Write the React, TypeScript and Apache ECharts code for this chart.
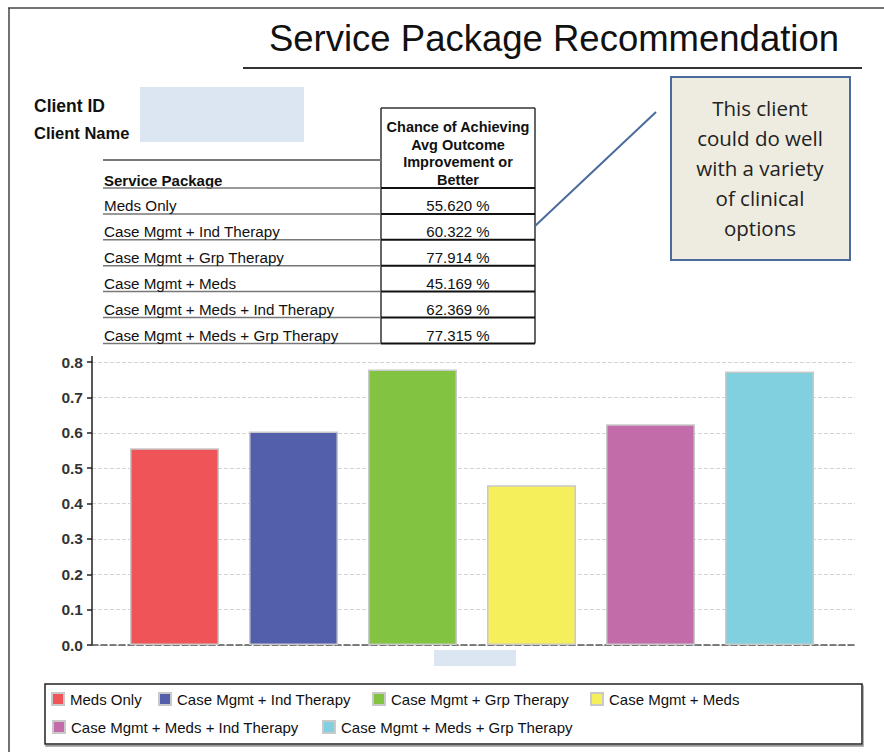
import React, { useEffect, useRef } from "react";
import * as echarts from "echarts";

const categories = [
  "Meds Only",
  "Case Mgmt + Ind Therapy",
  "Case Mgmt + Grp Therapy",
  "Case Mgmt + Meds",
  "Case Mgmt + Meds + Ind Therapy",
  "Case Mgmt + Meds + Grp Therapy",
];
const values = [0.5562, 0.60322, 0.77914, 0.45169, 0.62369, 0.77315];
const colors = ["#ef5459", "#535fab", "#82c341", "#f4ef5a", "#c36caa", "#80d0df"];
const yMin = 0;
const yMax = 0.8;
const yStep = 0.1;
const titleText = "Service Package Recommendation";
const headerText = ["Chance of Achieving", "Avg Outcome", "Improvement or", "Better"];
const calloutText = ["This client", "could do well", "with a variety", "of clinical", "options"];

const FF = "'Liberation Sans', Arial, Helvetica, sans-serif";

export default function App() {
  const ref = useRef<HTMLDivElement>(null);
  useEffect(() => {
    if (!ref.current) return;
    const chart = echarts.init(ref.current, undefined, { renderer: "svg" });

    const graphics: any[] = [];
    // outer frame
    graphics.push({ type: "line", shape: { x1: 8, y1: 8, x2: 884, y2: 8 }, style: { stroke: "#444", lineWidth: 1.5 } });
    graphics.push({ type: "line", shape: { x1: 9, y1: 8, x2: 9, y2: 752 }, style: { stroke: "#444", lineWidth: 1.5 } });
    // title
    graphics.push({
      type: "text",
      style: { text: titleText, x: 554, y: 38, align: "center", verticalAlign: "middle", fontSize: 36.5, fontFamily: FF, fill: "#111" },
    });
    graphics.push({ type: "line", shape: { x1: 243, y1: 68, x2: 862, y2: 68 }, style: { stroke: "#333", lineWidth: 2 } });
    // client info
    graphics.push({ type: "text", style: { text: "Client ID", x: 34, y: 106, verticalAlign: "middle", fontSize: 17.5, fontWeight: "bold", fontFamily: FF, fill: "#111" } });
    graphics.push({ type: "text", style: { text: "Client Name", x: 34, y: 133, verticalAlign: "middle", fontSize: 16.5, fontWeight: "bold", fontFamily: FF, fill: "#111" } });
    graphics.push({ type: "rect", shape: { x: 140, y: 87, width: 164, height: 55 }, style: { fill: "#dce6f2" } });

    // table
    const colL = 103, colM = 381, colR = 535;
    const headerBottom = 188;
    const rowH = 25.9;
    const lastLine = headerBottom + rowH * categories.length;
    graphics.push({ type: "line", shape: { x1: colM, y1: 108, x2: colR, y2: 108 }, style: { stroke: "#333", lineWidth: 1.5 } });
    graphics.push({ type: "line", shape: { x1: colM, y1: 108, x2: colM, y2: lastLine }, style: { stroke: "#333", lineWidth: 1.5 } });
    graphics.push({ type: "line", shape: { x1: colR, y1: 108, x2: colR, y2: lastLine }, style: { stroke: "#333", lineWidth: 1.5 } });
    graphics.push({ type: "line", shape: { x1: colL, y1: 160, x2: colM, y2: 160 }, style: { stroke: "#777", lineWidth: 2 } });
    graphics.push({
      type: "text",
      style: { text: headerText.join("\n"), x: (colM + colR) / 2, y: 153.5, align: "center", verticalAlign: "middle", lineHeight: 17.7, fontSize: 14.5, fontWeight: "bold", fontFamily: FF, fill: "#111" },
    });
    graphics.push({ type: "text", style: { text: "Service Package", x: 104, y: 180, verticalAlign: "middle", fontSize: 15, fontWeight: "bold", fontFamily: FF, fill: "#111" } });
    for (let i = 0; i <= categories.length; i++) {
      const y = headerBottom + rowH * i;
      graphics.push({ type: "line", shape: { x1: colL, y1: y, x2: colM, y2: y }, style: { stroke: "#777", lineWidth: 1.5 } });
      graphics.push({ type: "line", shape: { x1: colM, y1: y, x2: colR, y2: y }, style: { stroke: "#111", lineWidth: 2 } });
    }
    categories.forEach((name, i) => {
      const cy = headerBottom + rowH * (i + 1) - 8;
      graphics.push({ type: "text", style: { text: name, x: 104, y: cy, verticalAlign: "middle", fontSize: 15.2, fontFamily: FF, fill: "#111" } });
      graphics.push({
        type: "text",
        style: { text: (values[i] * 100).toFixed(3) + " %", x: (colM + colR) / 2, y: cy, align: "center", verticalAlign: "middle", fontSize: 15, fontFamily: FF, fill: "#111" },
      });
    });

    // callout
    graphics.push({ type: "line", shape: { x1: 535, y1: 226, x2: 656, y2: 112 }, style: { stroke: "#4a6b9c", lineWidth: 2 } });
    graphics.push({ type: "rect", shape: { x: 671, y: 77, width: 179, height: 183 }, style: { fill: "#eeece1", stroke: "#4a6b9c", lineWidth: 2 } });
    graphics.push({
      type: "text",
      style: { text: calloutText.join("\n"), x: 760, y: 168, align: "center", verticalAlign: "middle", lineHeight: 30, fontSize: 20.5, fontFamily: "'Open Sans', 'Noto Sans', sans-serif", fill: "#222" },
    });

    // redacted axis label
    graphics.push({ type: "rect", shape: { x: 434, y: 650, width: 82, height: 16 }, style: { fill: "#dce6f2" } });
    // y-axis extension above top tick
    graphics.push({ type: "line", shape: { x1: 92, y1: 356, x2: 92, y2: 362 }, style: { stroke: "#222", lineWidth: 1.5 } });

    // legend box
    graphics.push({
      type: "rect",
      z: -1,
      shape: { x: 45, y: 684, width: 817, height: 60 },
      style: { fill: "#fff", stroke: "#222", lineWidth: 1.5, shadowBlur: 0, shadowOffsetX: 1, shadowOffsetY: 2, shadowColor: "#999" },
    });

    const legendPos = [
      [51, 691],
      [158, 691],
      [372, 691],
      [590, 691],
      [52, 719],
      [322, 719],
    ];
    const legends = categories.map((name, i) => ({
      left: legendPos[i][0],
      top: legendPos[i][1],
      data: [name],
      icon: "rect",
      itemWidth: 12,
      itemHeight: 12,
      padding: 0,
      selectedMode: false,
      textStyle: { fontSize: 15, fontFamily: FF, color: "#111", lineHeight: 16, padding: [0, 0, 0, 1] },
    }));

    const series = categories.map((name, i) => ({
      type: "bar",
      name,
      xAxisIndex: 1,
      yAxisIndex: 1,
      data: categories.map((_, j) => (j === i ? values[i] : "-")),
      barWidth: 89,
      barGap: "-100%",
      itemStyle: { color: colors[i], borderColor: "#c9c9c9", borderWidth: 1.5 },
    }));

    chart.setOption({
      animation: false,
      backgroundColor: "#fff",
      graphic: { elements: graphics },
      legend: legends,
      grid: [
        { left: 92, right: 29, top: 362, bottom: 107 },
        { left: 115, right: 55, top: 362, bottom: 107 },
      ],
      xAxis: [
        {
          gridIndex: 0,
          type: "value",
          min: 0,
          max: 1,
          axisLabel: { show: false },
          axisTick: { show: false },
          splitLine: { show: false },
          axisLine: { show: true, lineStyle: { color: "#555", width: 1.5, type: "dashed" } },
        },
        { gridIndex: 1, type: "category", data: categories, show: false },
      ],
      yAxis: [
        {
          gridIndex: 0,
          type: "value",
          min: yMin,
          max: yMax,
          interval: yStep,
          axisLine: { show: true, lineStyle: { color: "#222", width: 1.5 } },
          axisTick: { show: true, length: 5, lineStyle: { color: "#222", width: 1.5 } },
          axisLabel: {
            margin: 9,
            fontSize: 15.5,
            fontWeight: "bold",
            fontFamily: FF,
            color: "#333",
            formatter: (v: number) => v.toFixed(1),
          },
          splitLine: { show: true, lineStyle: { color: "#d4d4d4", type: "dashed", width: 1 } },
        },
        { gridIndex: 1, type: "value", min: yMin, max: yMax, show: false },
      ],
      series,
    });
    return () => chart.dispose();
  }, []);
  return <div ref={ref} style={{ position: "fixed", left: 0, top: 0, width: 884, height: 752 }} />;
}
